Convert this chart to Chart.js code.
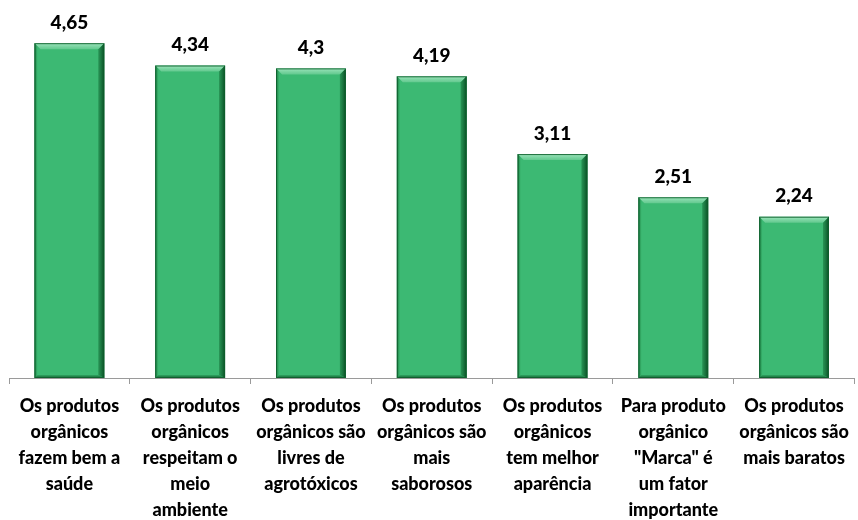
<!DOCTYPE html>
<html>
<head>
<meta charset="utf-8">
<script src="https://cdn.jsdelivr.net/npm/chart.js@4"></script>
<style>
  html, body { margin: 0; padding: 0; background: #fff; }
  #wrap { width: 858px; height: 520px; position: relative; }
</style>
</head>
<body>
<div id="wrap"><canvas id="c"></canvas></div>
<script>
const categories = [
  ["Os produtos", "orgânicos", "fazem bem a", "saúde"],
  ["Os produtos", "orgânicos", "respeitam o", "meio", "ambiente"],
  ["Os produtos", "orgânicos são", "livres de", "agrotóxicos"],
  ["Os produtos", "orgânicos são", "mais", "saborosos"],
  ["Os produtos", "orgânicos", "tem melhor", "aparência"],
  ["Para produto", "orgânico", "\"Marca\" é", "um fator", "importante"],
  ["Os produtos", "orgânicos são", "mais baratos"]
];
const values = [4.65, 4.34, 4.3, 4.19, 3.11, 2.51, 2.24];
const valueLabels = ["4,65", "4,34", "4,3", "4,19", "3,11", "2,51", "2,24"];
const yMax = 5;

const FONT = "Lato, 'Open Sans', sans-serif";

// Bevelled bar shading plus value labels above each bar
const bevelAndLabels = {
  id: 'bevelAndLabels',
  afterDatasetsDraw(chart) {
    const ctx = chart.ctx;
    const meta = chart.getDatasetMeta(0);
    meta.data.forEach((bar, i) => {
      const p = bar.getProps(['x', 'y', 'base', 'width'], true);
      const l = p.x - p.width / 2, r = p.x + p.width / 2;
      const t = p.y, b = p.base;
      const bv = 6;
      ctx.save();
      // top highlight
      let g = ctx.createLinearGradient(0, t, 0, t + bv);
      g.addColorStop(0, 'rgba(160,230,190,1)');
      g.addColorStop(1, 'rgba(115,208,155,0.7)');
      ctx.fillStyle = g;
      ctx.beginPath();
      ctx.moveTo(l, t); ctx.lineTo(r, t); ctx.lineTo(r - bv, t + bv); ctx.lineTo(l + bv, t + bv);
      ctx.closePath(); ctx.fill();
      // right shadow
      g = ctx.createLinearGradient(r - bv, 0, r, 0);
      g.addColorStop(0, 'rgba(20,110,55,0.5)');
      g.addColorStop(1, 'rgba(5,70,30,0.95)');
      ctx.fillStyle = g;
      ctx.beginPath();
      ctx.moveTo(r, t); ctx.lineTo(r, b); ctx.lineTo(r - bv, b - 3); ctx.lineTo(r - bv, t + bv);
      ctx.closePath(); ctx.fill();
      // left edge
      g = ctx.createLinearGradient(l, 0, l + 3, 0);
      g.addColorStop(0, 'rgba(10,90,40,0.8)');
      g.addColorStop(1, 'rgba(40,150,80,0.2)');
      ctx.fillStyle = g;
      ctx.beginPath();
      ctx.moveTo(l, t); ctx.lineTo(l + 3, t + 3); ctx.lineTo(l + 3, b - 3); ctx.lineTo(l, b);
      ctx.closePath(); ctx.fill();
      // bottom edge
      g = ctx.createLinearGradient(0, b - 3, 0, b);
      g.addColorStop(0, 'rgba(30,130,70,0.4)');
      g.addColorStop(1, 'rgba(10,80,35,0.9)');
      ctx.fillStyle = g;
      ctx.beginPath();
      ctx.moveTo(l, b); ctx.lineTo(r, b); ctx.lineTo(r - bv, b - 3); ctx.lineTo(l + 3, b - 3);
      ctx.closePath(); ctx.fill();
      // outline
      ctx.strokeStyle = 'rgba(15,95,45,0.9)';
      ctx.lineWidth = 1;
      ctx.strokeRect(l + 0.5, t + 0.5, p.width - 1, b - t - 1);
      // value label
      ctx.fillStyle = '#000';
      ctx.font = "900 19px " + FONT;
      ctx.textAlign = 'center';
      ctx.textBaseline = 'bottom';
      ctx.fillText(valueLabels[i], p.x, t - 11);
      ctx.restore();
    });
  }
};

new Chart(document.getElementById('c'), {
  type: 'bar',
  data: {
    labels: categories,
    datasets: [{
      data: values,
      backgroundColor: '#3cb973',
      borderWidth: 0,
      categoryPercentage: 1,
      barPercentage: 0.578
    }]
  },
  options: {
    responsive: true,
    maintainAspectRatio: false,
    animation: false,
    layout: { padding: { left: 9, right: 2, top: 18, bottom: 0 } },
    plugins: { legend: { display: false }, tooltip: { enabled: false } },
    scales: {
      y: { display: false, min: 0, max: yMax },
      x: {
        offset: true,
        afterFit(scale) { scale.height = 142; },
        border: { display: true, color: '#9a9a9a', width: 1 },
        grid: { display: true, drawOnChartArea: false, drawTicks: true, tickLength: 6, color: '#9a9a9a', offset: true },
        ticks: {
          color: '#000',
          font: { family: FONT, size: 18, weight: '900', lineHeight: '26px' },
          padding: 9,
          maxRotation: 0,
          autoSkip: false
        }
      }
    }
  },
  plugins: [bevelAndLabels]
});
</script>
</body>
</html>
